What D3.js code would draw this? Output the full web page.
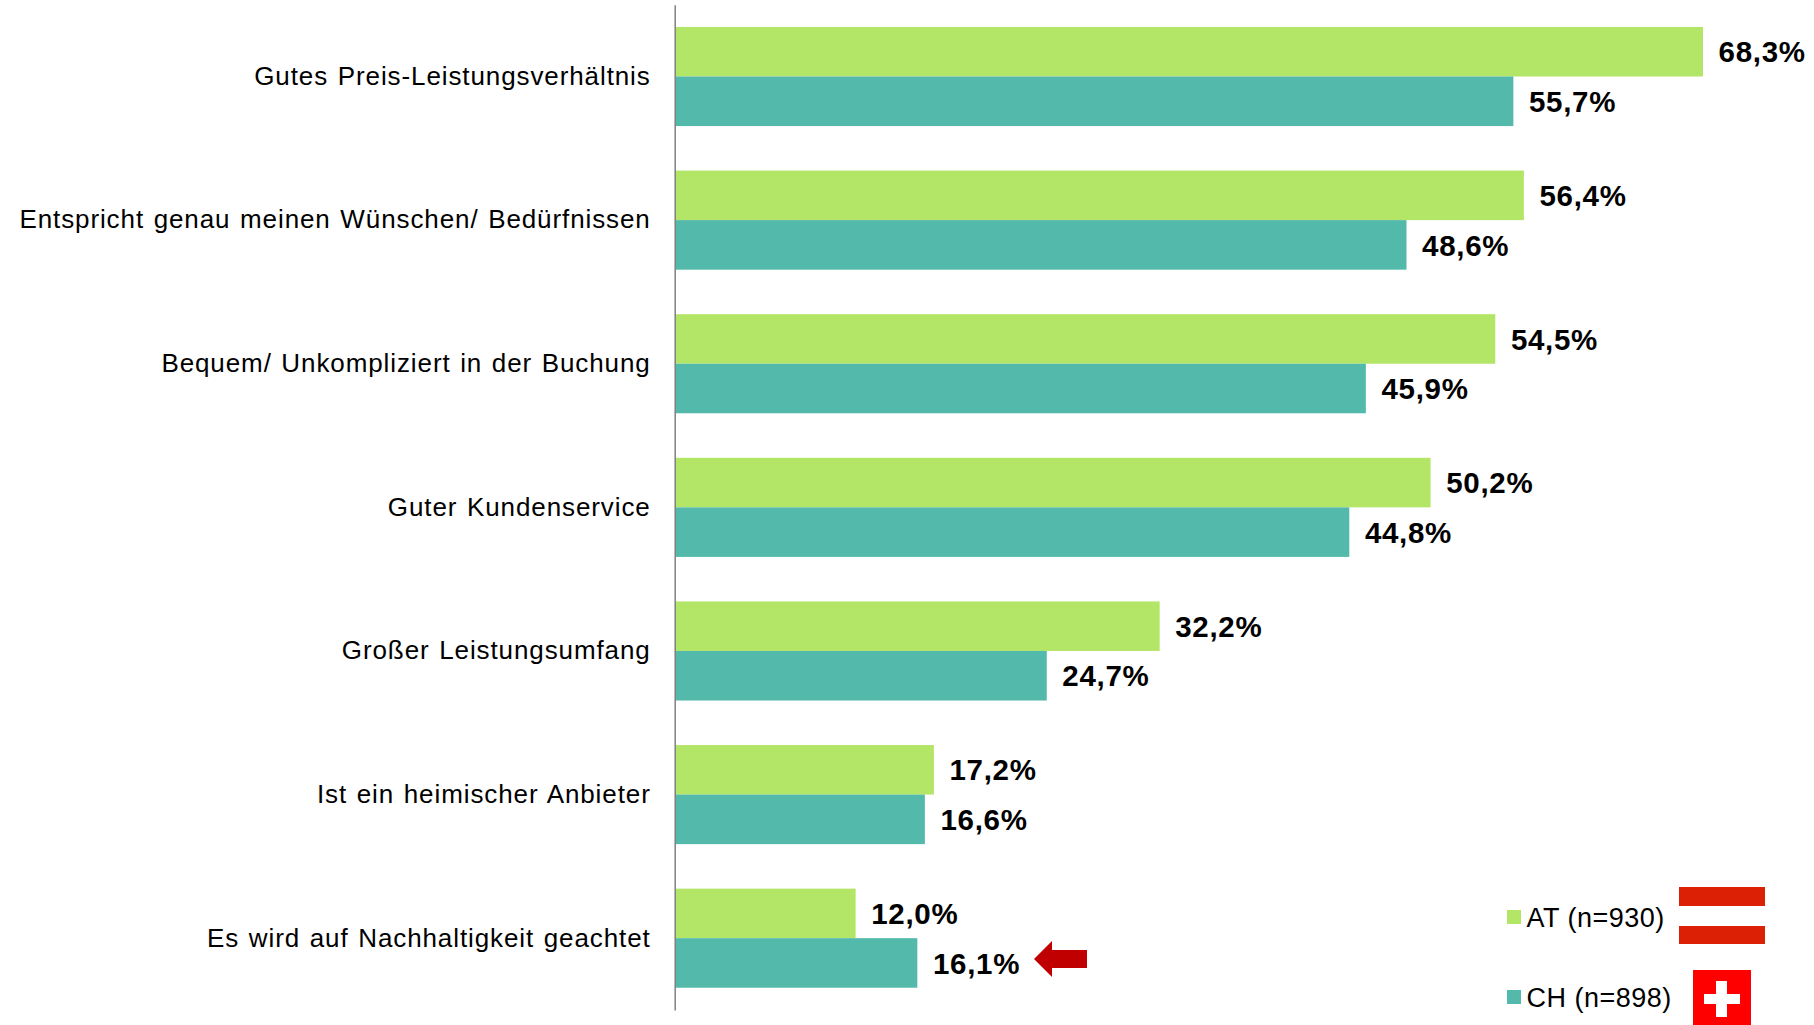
<!DOCTYPE html>
<html><head><meta charset="utf-8">
<script src="https://cdn.jsdelivr.net/npm/d3@7"></script>
<style>html,body{margin:0;background:#fff}svg{display:block}text{font-family:"Liberation Sans",Arial,sans-serif;fill:#000}</style>
</head><body><div id="c"></div>
<script>
const categories=["Gutes Preis-Leistungsverhältnis","Entspricht genau meinen Wünschen/ Bedürfnissen","Bequem/ Unkompliziert in der Buchung","Guter Kundenservice","Großer Leistungsumfang","Ist ein heimischer Anbieter","Es wird auf Nachhaltigkeit geachtet"];
const seriesAT=[68.3,56.4,54.5,50.2,32.2,17.2,12.0];
const seriesCH=[55.7,48.6,45.9,44.8,24.7,16.6,16.1];
const seriesNames=["AT (n=930)","CH (n=898)"];
const colors=["#B3E667","#52B9AB"];
const W=1814,H=1025;
const svg=d3.select("#c").append("svg").attr("width",W).attr("height",H);
const x=d3.scaleLinear().domain([0,68.3]).range([675,1703]);
const y=d3.scaleBand().domain(categories).range([4.7,1010]).paddingInner(0.31).paddingOuter(0.155);
const sub=d3.scaleBand().domain([0,1]).range([0,y.bandwidth()]);
const fmt=v=>v.toFixed(1).replace(".",",")+"%";
[seriesAT,seriesCH].forEach((s,k)=>{
  const g=svg.append("g");
  g.selectAll("rect").data(s).join("rect")
   .attr("x",x(0)).attr("y",(d,i)=>y(categories[i])+sub(k))
   .attr("width",d=>x(d)-x(0)).attr("height",sub.bandwidth()).attr("fill",colors[k]);
  g.selectAll("text").data(s).join("text")
   .attr("x",d=>x(d)+15.6).attr("y",(d,i)=>y(categories[i])+sub(k)+sub.bandwidth()/2)
   .attr("dy","0.36em").attr("font-size",29.5).attr("letter-spacing",0.7).attr("font-weight","bold").text(fmt);
});
const ax=svg.append("g").attr("transform",`translate(${x(0)-0.3},0)`)
  .call(d3.axisLeft(y).tickSize(0).tickPadding(24));
ax.select(".domain").attr("stroke","#808080").attr("stroke-width",1.5);
ax.selectAll("text").attr("font-size",26).attr("letter-spacing",0.9).attr("word-spacing",1.5).attr("dy","0.32em").style("font-family",'"Liberation Sans",Arial,sans-serif');
// legend
const ly=d3.scalePoint().domain(seriesNames).range([917,997]);
seriesNames.forEach((n,k)=>{
  svg.append("rect").attr("x",1507).attr("y",ly(n)-7).attr("width",14).attr("height",14).attr("fill",colors[k]);
  svg.append("text").attr("x",1526.5).attr("y",ly(n)).attr("dy","0.36em").attr("font-size",27).attr("letter-spacing",0.5).text(n);
});
// Austrian flag
svg.append("rect").attr("x",1679).attr("y",887).attr("width",86).attr("height",19).attr("fill","#DB2005");
svg.append("rect").attr("x",1679).attr("y",926).attr("width",86).attr("height",18).attr("fill","#DB2005");
// Swiss flag
svg.append("rect").attr("x",1693).attr("y",970).attr("width",58).attr("height",55).attr("fill","#FF0000");
svg.append("rect").attr("x",1716).attr("y",981).attr("width",11).attr("height",36).attr("fill","#fff");
svg.append("rect").attr("x",1704).attr("y",994).attr("width",36).attr("height",10).attr("fill","#fff");
// arrow
svg.append("path").attr("d","M1034,959L1052,941V950H1087V968H1052V977Z").attr("fill","#C00000");
</script></body></html>
